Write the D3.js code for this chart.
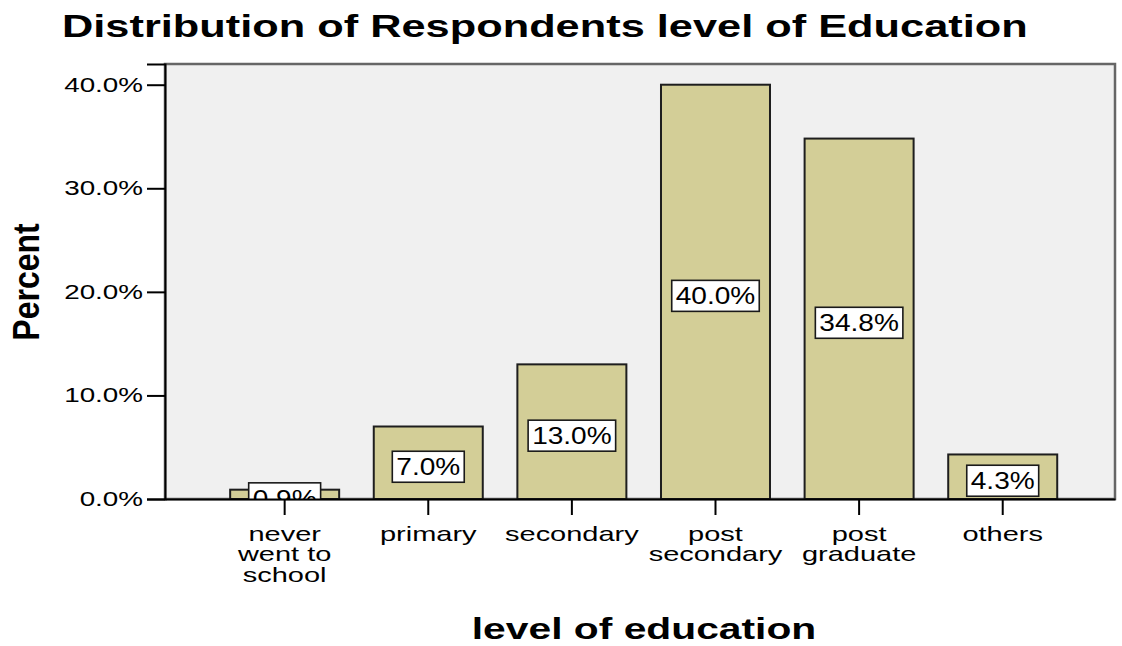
<!DOCTYPE html>
<html>
<head>
<meta charset="utf-8">
<script src="https://cdn.jsdelivr.net/npm/d3@7"></script>
<style>
  html, body { margin: 0; padding: 0; background: #fff; }
  svg { display: block; font-family: "Liberation Sans", Arial, sans-serif; }
</style>
</head>
<body>
<svg id="chart" width="1122" height="646"></svg>
<script>
// Education level categories ("\n" marks a line break in the axis label)
const categories = [
  "never\nwent to\nschool",
  "primary",
  "secondary",
  "post\nsecondary",
  "post\ngraduate",
  "others"
];
// Percent of respondents in each category
const percents = [0.9, 7.0, 13.0, 40.0, 34.8, 4.3];
// Y axis tick values
const yTicks = [0, 10, 20, 30, 40];

const titleText = "Distribution of Respondents level of Education";
const xTitle = "level of education";
const yTitle = "Percent";

const W = 1122, H = 646;
const plot = { left: 165, right: 1115, top: 64, bottom: 499 };

const svg = d3.select("#chart");

const x = d3.scaleBand()
  .domain(categories)
  .range([plot.left, plot.right])
  .paddingInner(0.241)
  .paddingOuter(0.428)
  .align(0.53);

const y = d3.scaleLinear()
  .domain([0, 42])
  .range([plot.bottom, plot.top]);

// plot background and frame
svg.append("rect")
  .attr("x", plot.left).attr("y", plot.top)
  .attr("width", plot.right - plot.left)
  .attr("height", plot.bottom - plot.top)
  .attr("fill", "#f0f0f0")
  .attr("stroke", "#666")
  .attr("stroke-width", 2.5);

svg.append("defs").append("clipPath").attr("id", "plotClip")
  .append("rect")
  .attr("x", plot.left).attr("y", plot.top)
  .attr("width", plot.right - plot.left)
  .attr("height", plot.bottom - plot.top);

const data = categories.map((c, i) => ({ cat: c, value: percents[i] }));

const gBars = svg.append("g").attr("clip-path", "url(#plotClip)");

gBars.selectAll("rect.bar")
  .data(data)
  .join("rect")
  .attr("class", "bar")
  .attr("x", d => x(d.cat))
  .attr("y", d => y(d.value))
  .attr("width", x.bandwidth())
  .attr("height", d => y(0) - y(d.value))
  .attr("fill", "#d3ce97")
  .attr("stroke", "#1e1e1e")
  .attr("stroke-width", 2);

// value labels: white boxes at half bar height
const fmt = v => v.toFixed(1) + "%";
const LBL_FS = 23, LBL_SX = 1.22;
const labels = gBars.selectAll("g.vlabel")
  .data(data)
  .join("g")
  .attr("class", "vlabel")
  .attr("transform", d => `translate(${x(d.cat) + x.bandwidth() / 2},${y(d.value / 2) + 4})`);

labels.each(function (d) {
  const g = d3.select(this);
  const rect = g.append("rect");
  const t = g.append("text")
    .attr("text-anchor", "middle")
    .attr("dy", "0.36em")
    .attr("font-size", LBL_FS)
    .attr("fill", "#000")
    .attr("transform", `scale(${LBL_SX},1)`)
    .text(fmt(d.value));
  const w = t.node().getComputedTextLength() * LBL_SX + 8;
  rect.attr("x", -w / 2).attr("y", -15.5)
    .attr("width", w).attr("height", 31)
    .attr("fill", "#fff")
    .attr("stroke", "#1a1a1a")
    .attr("stroke-width", 1.6);
});

// Y axis
const yAxis = svg.append("g")
  .attr("transform", `translate(${plot.left},0)`)
  .call(d3.axisLeft(y).tickValues(yTicks).tickSize(18).tickPadding(4)
    .tickFormat(d => d.toFixed(1) + "%"));
yAxis.select(".domain").attr("stroke", "#000").attr("stroke-width", 2);
yAxis.selectAll(".tick line").attr("stroke", "#000").attr("stroke-width", 2);
yAxis.selectAll(".tick text")
  .attr("font-size", 20)
  .attr("font-family", "Liberation Sans, Arial, sans-serif")
  .attr("fill", "#000")
  .attr("x", -22 / 1.39)
  .attr("transform", "scale(1.39,1)");

// X axis
const xAxis = svg.append("g")
  .attr("transform", `translate(0,${plot.bottom})`)
  .call(d3.axisBottom(x).tickSize(16).tickSizeOuter(0).tickFormat(""));
xAxis.select(".domain").attr("stroke", "#000").attr("stroke-width", 2);
xAxis.selectAll(".tick line").attr("stroke", "#000").attr("stroke-width", 2);

// category labels (multi-line)
xAxis.selectAll(".tick").each(function (d) {
  const lines = d.split("\n");
  const t = d3.select(this).append("text")
    .attr("font-size", 20)
    .attr("font-family", "Liberation Sans, Arial, sans-serif")
    .attr("fill", "#000")
    .attr("text-anchor", "middle")
    .attr("transform", "scale(1.45,1)");
  lines.forEach((ln, i) => {
    t.append("tspan").attr("x", 0).attr("y", 42 + i * 20.5).text(ln);
  });
});

// title
svg.append("text")
  .attr("transform", "translate(62,37) scale(1.355,1)")
  .attr("font-size", 32)
  .attr("font-weight", "bold")
  .attr("fill", "#000")
  .text(titleText);

// x axis title
svg.append("text")
  .attr("transform", "translate(644,639) scale(1.36,1)")
  .attr("text-anchor", "middle")
  .attr("font-size", 30)
  .attr("font-weight", "bold")
  .attr("fill", "#000")
  .text(xTitle);

// y axis title
svg.append("text")
  .attr("transform", "translate(39,282) rotate(-90) scale(1,1.15)")
  .attr("text-anchor", "middle")
  .attr("font-size", 32)
  .attr("font-weight", "bold")
  .attr("fill", "#000")
  .text(yTitle);
</script>
</body>
</html>
